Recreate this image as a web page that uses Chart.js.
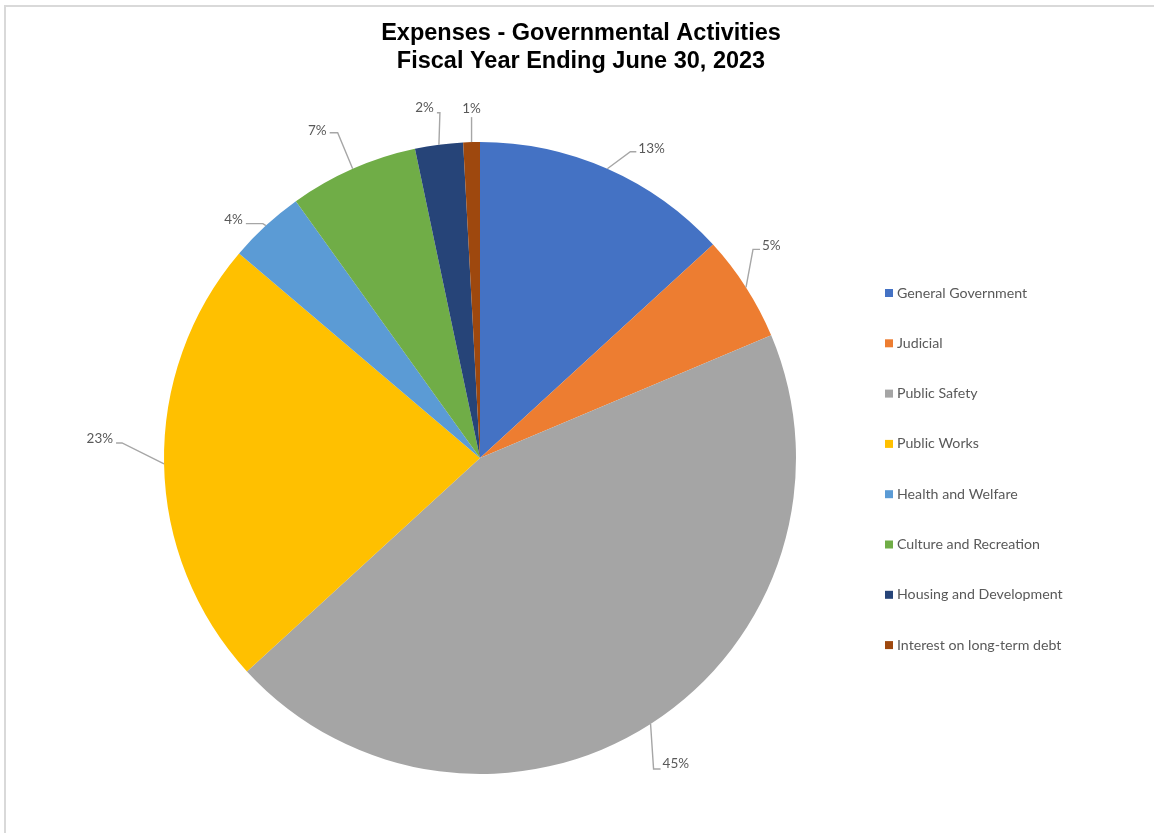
<!DOCTYPE html>
<html>
<head>
<meta charset="utf-8">
<script src="https://cdn.jsdelivr.net/npm/chart.js@4.4.0/dist/chart.umd.min.js"></script>
<style>
  html, body { margin: 0; padding: 0; background: #fff; }
  #wrap { position: absolute; left: 0; top: 0; width: 1154px; height: 833px; }
</style>
</head>
<body>
<div id="wrap"><canvas id="c" width="1154" height="833"></canvas></div>
<script>
// ---- data ----
const categories = [
  "General Government",
  "Judicial",
  "Public Safety",
  "Public Works",
  "Health and Welfare",
  "Culture and Recreation",
  "Housing and Development",
  "Interest on long-term debt"
];
const shares = [13.2, 5.45, 44.55, 23.0, 3.9, 6.6, 2.45, 0.85];
const titleLines = ["Expenses - Governmental Activities", "Fiscal Year Ending June 30, 2023"];

// ---- styles ----
const colors = ["#4472C4", "#ED7D31", "#A5A5A5", "#FFC000", "#5B9BD5", "#70AD47", "#264478", "#9E480E"];
// label placement relative to the slice's outer mid point (style only)
const labelLayout = [
  {dx: 31,  dy: -20, ex: 23,  ey: -17, align: "left"},
  {dx: 16,  dy: -42, ex: 7,   ey: -38, align: "left"},
  {dx: 12,  dy: 40,  ex: 3,   ey: 45,  align: "left"},
  {dx: -51, dy: -25, ex: -42, ey: -21, align: "right"},
  {dx: -23, dy: -6,  ex: -3,  ey: -2,  align: "right"},
  {dx: -26, dy: -38, ex: -15, ey: -36, align: "right"},
  {dx: -5,  dy: -37, ex: 1,   ey: -32, align: "right"},
  {dx: 0,   dy: -33, ex: 0,   ey: -25, align: "center"}
];
const textGray = "#595959";
const lineGray = "#A6A6A6";
const labelFont = "13.5px Lato, 'Open Sans', sans-serif";
const legendFont = "14.2px Lato, 'Open Sans', sans-serif";

const framePlugin = {
  id: "frame",
  beforeDraw(chart) {
    const ctx = chart.ctx;
    ctx.save();
    ctx.fillStyle = "#ffffff";
    ctx.fillRect(0, 0, chart.width, chart.height);
    ctx.strokeStyle = "#D9D9D9";
    ctx.lineWidth = 2;
    ctx.beginPath();
    ctx.moveTo(5, chart.height);
    ctx.lineTo(5, 6);
    ctx.lineTo(chart.width, 6);
    ctx.stroke();
    ctx.restore();
  }
};

const titlePlugin = {
  id: "titleText",
  afterDraw(chart) {
    const ctx = chart.ctx;
    ctx.save();
    ctx.fillStyle = "#000000";
    ctx.font = "bold 23.5px 'Liberation Sans', Arial, sans-serif";
    ctx.textAlign = "center";
    ctx.textBaseline = "middle";
    titleLines.forEach((t, i) => ctx.fillText(t, 581, 34 + i * 28));
    ctx.restore();
  }
};

const legendPlugin = {
  id: "sideLegend",
  afterDraw(chart) {
    const ctx = chart.ctx;
    const ds = chart.data.datasets[0];
    ctx.save();
    ctx.font = legendFont;
    ctx.textBaseline = "middle";
    ctx.textAlign = "left";
    chart.data.labels.forEach((lab, i) => {
      const cy = 293 + i * 50.3;
      ctx.fillStyle = ds.backgroundColor[i];
      ctx.fillRect(885, cy - 4, 8, 8);
      ctx.fillStyle = textGray;
      ctx.fillText(lab, 897, cy);
    });
    ctx.restore();
  }
};

const labelPlugin = {
  id: "leaderLabels",
  afterDatasetsDraw(chart) {
    const ctx = chart.ctx;
    const meta = chart.getDatasetMeta(0);
    const vals = chart.data.datasets[0].data;
    const total = vals.reduce((a, b) => a + b, 0);
    ctx.save();
    ctx.font = labelFont;
    ctx.textBaseline = "middle";
    meta.data.forEach((arc, i) => {
      const p = arc.getProps(["x", "y", "startAngle", "endAngle", "outerRadius"], true);
      const mid = (p.startAngle + p.endAngle) / 2;
      const ax = p.x + Math.cos(mid) * p.outerRadius;
      const ay = p.y + Math.sin(mid) * p.outerRadius;
      const L = labelLayout[i];
      const tx = ax + L.dx, ty = ay + L.dy;
      const exx = ax + L.ex, eyy = ay + L.ey;
      const txt = Math.round(vals[i] / total * 100) + "%";
      ctx.strokeStyle = lineGray;
      ctx.lineWidth = 1.4;
      ctx.beginPath();
      ctx.moveTo(ax, ay);
      ctx.lineTo(exx, eyy);
      if (L.align === "left") ctx.lineTo(tx - 2, eyy);
      else if (L.align === "right") ctx.lineTo(Math.min(exx, tx + 3), eyy);
      ctx.stroke();
      ctx.fillStyle = textGray;
      ctx.textAlign = L.align;
      ctx.fillText(txt, tx, ty);
    });
    ctx.restore();
  }
};

new Chart(document.getElementById("c"), {
  type: "pie",
  data: {
    labels: categories,
    datasets: [{
      data: shares,
      backgroundColor: colors,
      borderWidth: 0
    }]
  },
  options: {
    responsive: false,
    animation: false,
    layout: { padding: { left: 164, right: 358, top: 142, bottom: 59 } },
    plugins: {
      legend: { display: false },
      title: { display: false },
      tooltip: { enabled: false }
    }
  },
  plugins: [framePlugin, titlePlugin, legendPlugin, labelPlugin]
});
</script>
</body>
</html>
